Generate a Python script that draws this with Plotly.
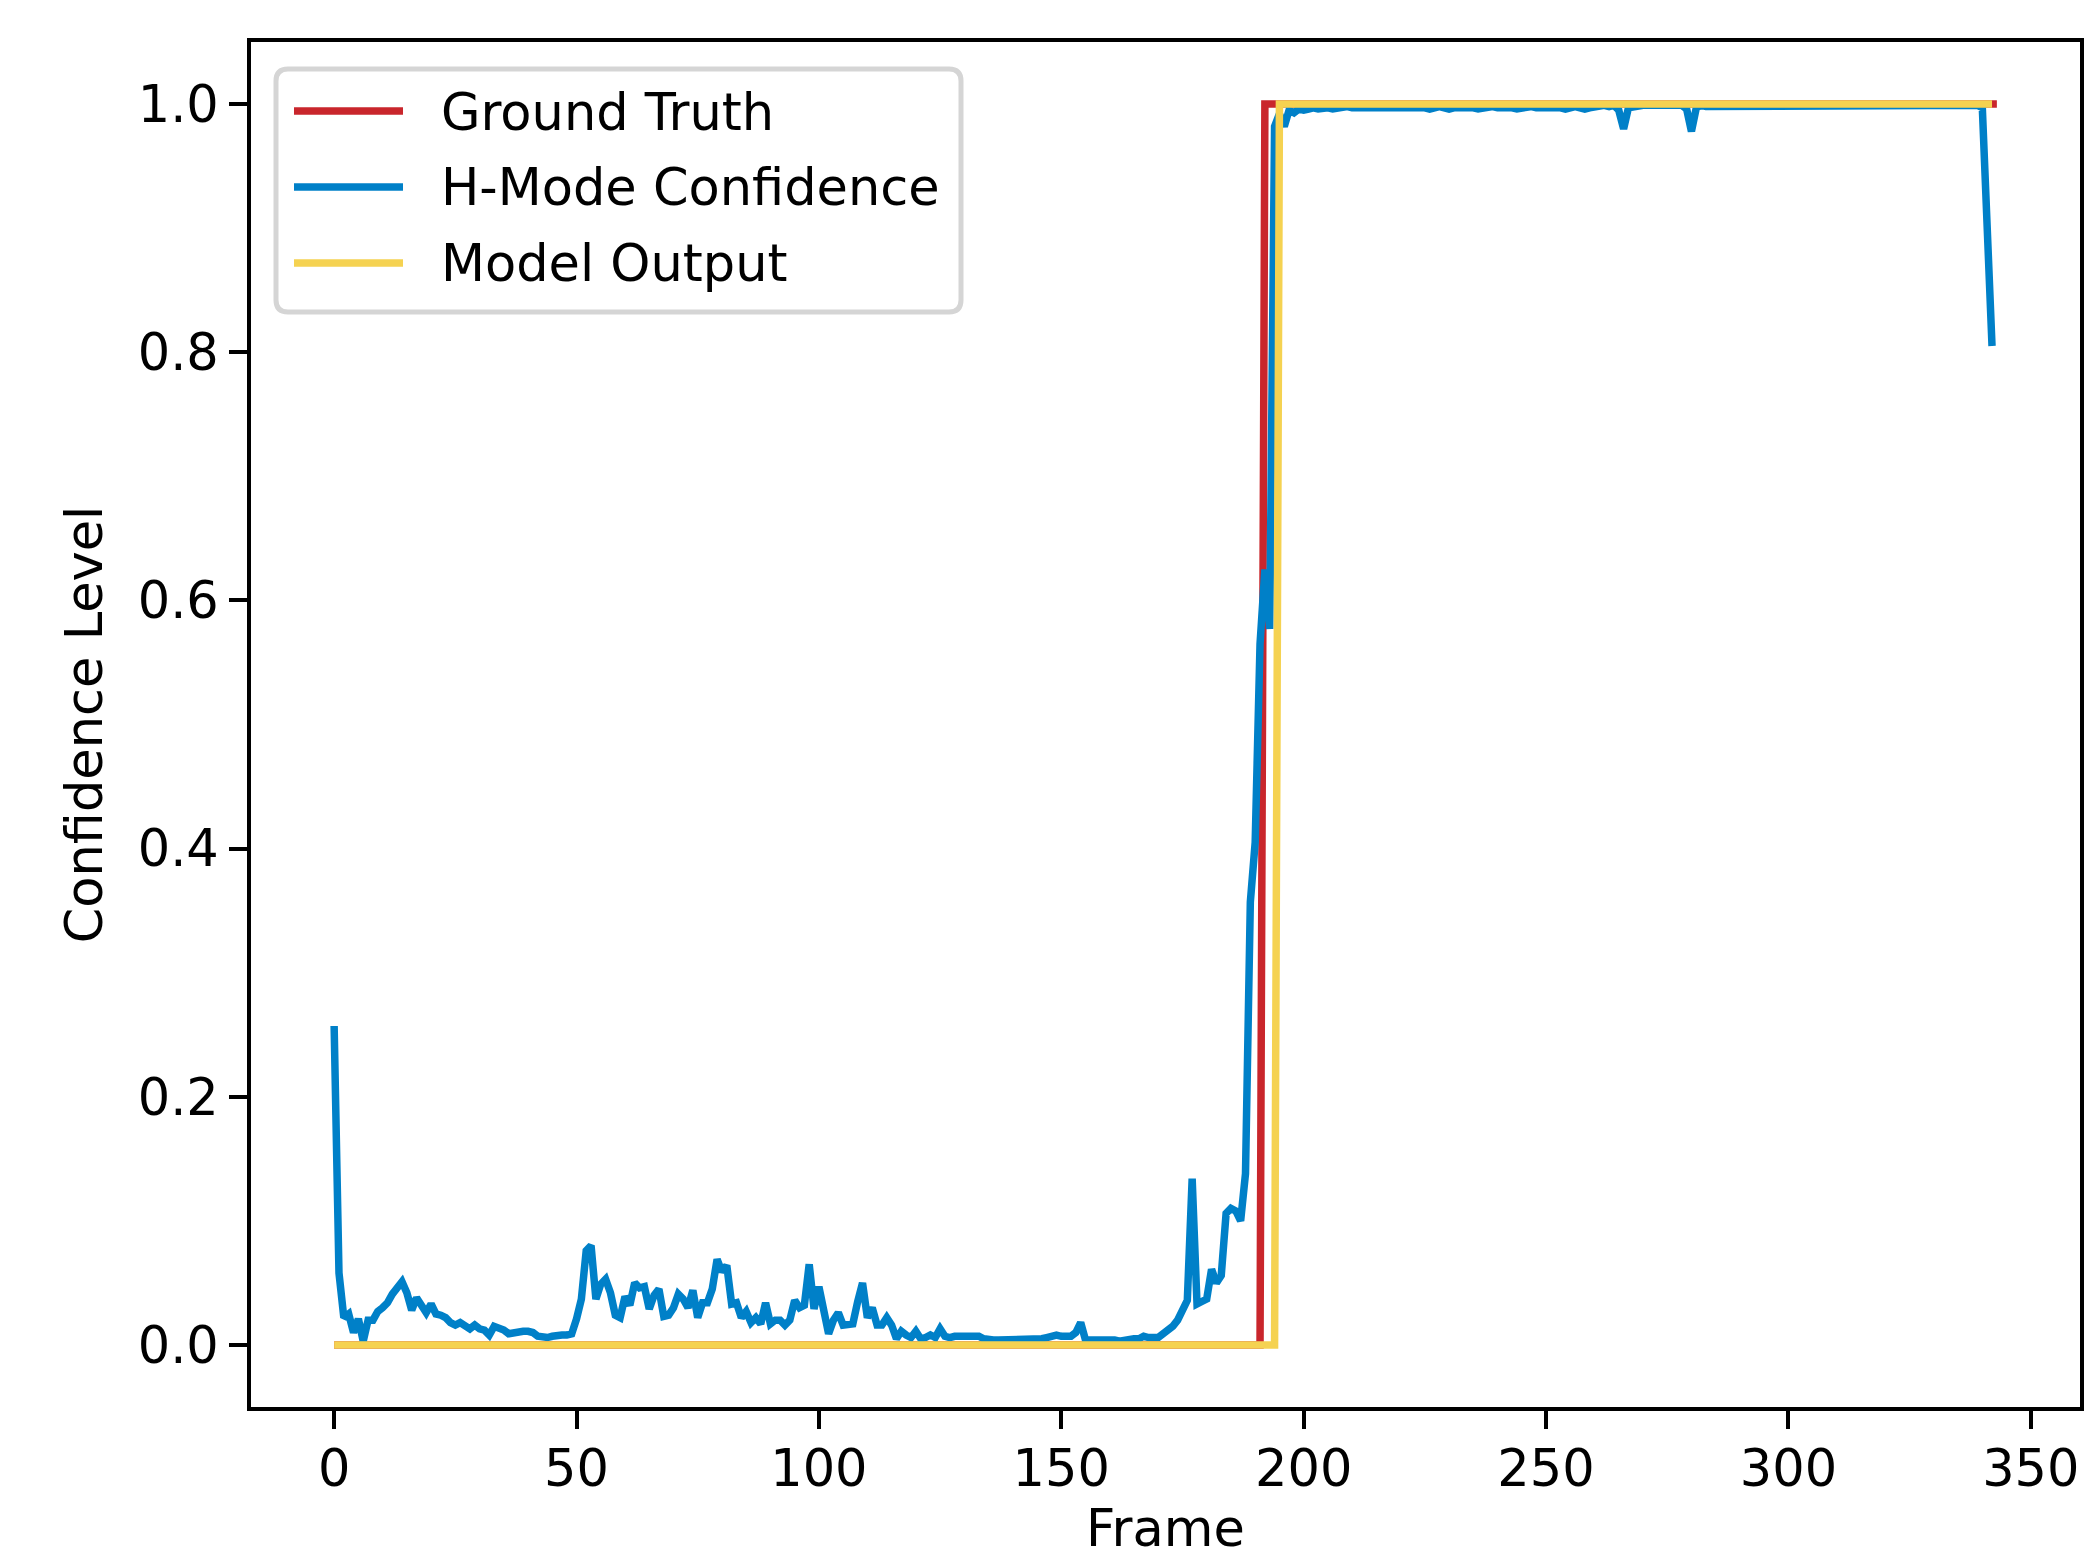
import plotly.graph_objects as go

# ---------------- data ----------------
frames = list(range(343))

h_mode_conf = [
    0.257, 0.058, 0.022, 0.025, 0.010, 0.021, 0.003, 0.020, 0.020, 0.027,   # 0-9
    0.030, 0.034, 0.041, 0.046, 0.051, 0.042, 0.028, 0.038, 0.031, 0.026,   # 10-19
    0.033, 0.025, 0.024, 0.022, 0.018, 0.016, 0.018, 0.015, 0.013, 0.016,   # 20-29
    0.013, 0.012, 0.008, 0.015, 0.014, 0.012, 0.009, 0.010, 0.011, 0.011,   # 30-39
    0.011, 0.010, 0.007, 0.006, 0.006, 0.007, 0.008, 0.008, 0.008, 0.009,   # 40-49
    0.021, 0.037, 0.076, 0.080, 0.037, 0.049, 0.053, 0.042, 0.024, 0.022,   # 50-59
    0.039, 0.032, 0.050, 0.046, 0.047, 0.029, 0.040, 0.045, 0.023, 0.024,   # 60-69
    0.030, 0.041, 0.037, 0.030, 0.044, 0.022, 0.034, 0.034, 0.045, 0.069,   # 70-79
    0.059, 0.064, 0.033, 0.034, 0.022, 0.027, 0.018, 0.022, 0.017, 0.034,   # 80-89
    0.017, 0.020, 0.020, 0.016, 0.020, 0.036, 0.030, 0.032, 0.065, 0.029,   # 90-99
    0.047, 0.024, 0.009, 0.020, 0.026, 0.016, 0.016, 0.017, 0.035, 0.050,   # 100-109
    0.022, 0.030, 0.016, 0.016, 0.022, 0.016, 0.005, 0.011, 0.008, 0.006,   # 110-119
    0.011, 0.005, 0.006, 0.008, 0.006, 0.013, 0.007, 0.006, 0.007, 0.007,   # 120-129
    0.008, 0.008, 0.008, 0.007, 0.005, 0.004, 0.004, 0.004, 0.004, 0.004,   # 130-139
    0.004, 0.004, 0.004, 0.005, 0.004, 0.004, 0.005, 0.006, 0.007, 0.008,   # 140-149
    0.007, 0.007, 0.007, 0.010, 0.018, 0.004, 0.004, 0.004, 0.005, 0.005,   # 150-159
    0.005, 0.004, 0.003, 0.004, 0.004, 0.005, 0.005, 0.007, 0.006, 0.006,   # 160-169
    0.006, 0.009, 0.012, 0.015, 0.020, 0.027, 0.036, 0.134, 0.033, 0.035,   # 170-179
    0.037, 0.061, 0.050, 0.056, 0.106, 0.110, 0.108, 0.100, 0.138, 0.357,   # 180-189
    0.405, 0.565, 0.625, 0.577, 0.982, 0.992, 0.982, 0.995, 0.993, 0.996,   # 190-199
    0.995, 0.996, 0.997, 0.996, 0.997, 0.997, 0.996, 0.997, 0.997, 0.998,   # 200-209
    0.997, 0.997, 0.998, 0.998, 0.997, 0.998, 0.998, 0.997, 0.998, 0.998,   # 210-219
    0.998, 0.997, 0.998, 0.998, 0.998, 0.997, 0.996, 0.997, 0.998, 0.997,   # 220-229
    0.996, 0.997, 0.997, 0.998, 0.997, 0.997, 0.996, 0.997, 0.997, 0.998,   # 230-239
    0.997, 0.997, 0.998, 0.997, 0.996, 0.997, 0.997, 0.998, 0.997, 0.997,   # 240-249
    0.998, 0.997, 0.997, 0.997, 0.996, 0.997, 0.998, 0.997, 0.996, 0.997,   # 250-259
    0.998, 0.998, 0.999, 0.998, 0.999, 0.995, 0.980, 0.997, 0.998, 0.998,   # 260-269
    0.999, 0.999, 0.999, 0.999, 0.999, 0.999, 0.999, 0.998, 0.999, 0.996,   # 270-279
    0.978, 0.997, 0.999, 0.998, 0.998, 0.999, 0.998, 0.998, 0.999, 0.999,   # 280-289
    0.999, 0.999, 0.999, 0.999, 0.999, 0.999, 0.999, 0.999, 0.999, 0.999,   # 290-299
    0.999, 0.999, 0.999, 0.999, 0.999, 0.999, 0.999, 0.999, 0.999, 0.999,   # 300-309
    0.999, 0.999, 0.999, 0.999, 0.999, 0.999, 0.999, 0.999, 0.999, 0.999,   # 310-319
    0.999, 0.999, 0.999, 0.999, 0.999, 0.999, 0.999, 0.999, 0.999, 0.999,   # 320-329
    0.999, 0.999, 0.999, 0.999, 0.999, 0.999, 0.999, 0.999, 0.999, 0.999,   # 330-339
    0.997, 0.900, 0.805,                                                    # 340-342
]

# step series given by their breakpoints
gt_frames = [0, 191, 192, 343]
gt_values = [0, 0, 1, 1]
model_frames = [0, 194, 195, 342]
model_values = [0, 0, 1, 1]

series_names = ["Ground Truth", "H-Mode Confidence", "Model Output"]
x_ticks = [0, 50, 100, 150, 200, 250, 300, 350]
y_ticks = [0.0, 0.2, 0.4, 0.6, 0.8, 1.0]
y_tick_labels = ["0.0", "0.2", "0.4", "0.6", "0.8", "1.0"]
x_title = "Frame"
y_title = "Confidence Level"

# ---------------- style ----------------
RED = "#C9262C"
BLUE = "#0080C8"
YELLOW = "#F5D251"
colors = [RED, BLUE, YELLOW]
LW = 7.5
FONT = "DejaVu Sans"
FS = 51

PAGE_OFF = 8                 # default <body> margin of the html page
W, H = 2093 - PAGE_OFF, 1558 - PAGE_OFF
# plot-area edges in (reference) page pixels
L, R, T, B = 251, 2080, 42, 1407


def px_x(px):
    return (px - L) / (R - L)


def px_y(py):
    return (B - py) / (B - T)


fig = go.Figure()
fig.add_trace(go.Scatter(x=gt_frames, y=gt_values, mode="lines", name=series_names[0],
                         line=dict(color=RED, width=LW), showlegend=False))
fig.add_trace(go.Scatter(x=frames, y=h_mode_conf, mode="lines", name=series_names[1],
                         line=dict(color=BLUE, width=LW), showlegend=False))
fig.add_trace(go.Scatter(x=model_frames, y=model_values, mode="lines", name=series_names[2],
                         line=dict(color=YELLOW, width=LW), showlegend=False))

axis_common = dict(
    showgrid=False, zeroline=False, showline=True, linecolor="black", linewidth=4,
    mirror=True, ticks="outside", ticklen=18, tickwidth=4, tickcolor="black",
    tickfont=dict(family=FONT, size=FS, color="black"),
)

fig.update_layout(
    width=W, height=H,
    margin=dict(l=L - PAGE_OFF, r=(W + PAGE_OFF) - R, t=T - PAGE_OFF, b=(H + PAGE_OFF) - B,
                autoexpand=False),
    paper_bgcolor="white", plot_bgcolor="white",
    font=dict(family=FONT, size=FS, color="black"),
    xaxis=dict(range=[-17.15, 360.15], tickmode="array", tickvals=x_ticks,
               ticktext=[str(v) for v in x_ticks], ticklabelstandoff=-4,
               **axis_common),
    yaxis=dict(range=[-0.05, 1.05], tickmode="array", tickvals=y_ticks, ticktext=y_tick_labels,
               title=dict(text=y_title, font=dict(family=FONT, size=FS, color="black"), standoff=20),
               **axis_common),
)

# ---------------- x-axis title (placed like matplotlib's) ----------------
annotations = [dict(text=x_title, xref="paper", yref="paper", x=px_x(1165), y=px_y(1529),
                    xanchor="center", yanchor="middle", showarrow=False,
                    font=dict(family=FONT, size=FS, color="black"))]

# ---------------- legend (drawn like matplotlib's) ----------------
bx0, bx1, by0, by1 = px_x(276), px_x(961), px_y(69), px_y(312)
rx, ry = 12 / (R - L), 12 / (B - T)
path = (f"M {bx0+rx},{by0} L {bx1-rx},{by0} Q {bx1},{by0} {bx1},{by0-ry} "
        f"L {bx1},{by1+ry} Q {bx1},{by1} {bx1-rx},{by1} L {bx0+rx},{by1} "
        f"Q {bx0},{by1} {bx0},{by1+ry} L {bx0},{by0-ry} Q {bx0},{by0} {bx0+rx},{by0} Z")
shapes = [dict(type="path", path=path, xref="paper", yref="paper",
               fillcolor="rgba(255,255,255,0.8)", line=dict(color="#D5D5D5", width=5),
               layer="above")]
rows = [111, 187, 263]
for name, col, row in zip(series_names, colors, rows):
    shapes.append(dict(type="line", xref="paper", yref="paper",
                       x0=px_x(294), x1=px_x(403), y0=px_y(row), y1=px_y(row),
                       line=dict(color=col, width=LW), layer="above"))
    annotations.append(dict(text=name, xref="paper", yref="paper", x=px_x(439), y=px_y(row + 1),
                            xanchor="left", yanchor="middle", showarrow=False,
                            font=dict(family=FONT, size=FS, color="black")))
fig.update_layout(shapes=shapes, annotations=annotations)

fig.write_html("out.html")
